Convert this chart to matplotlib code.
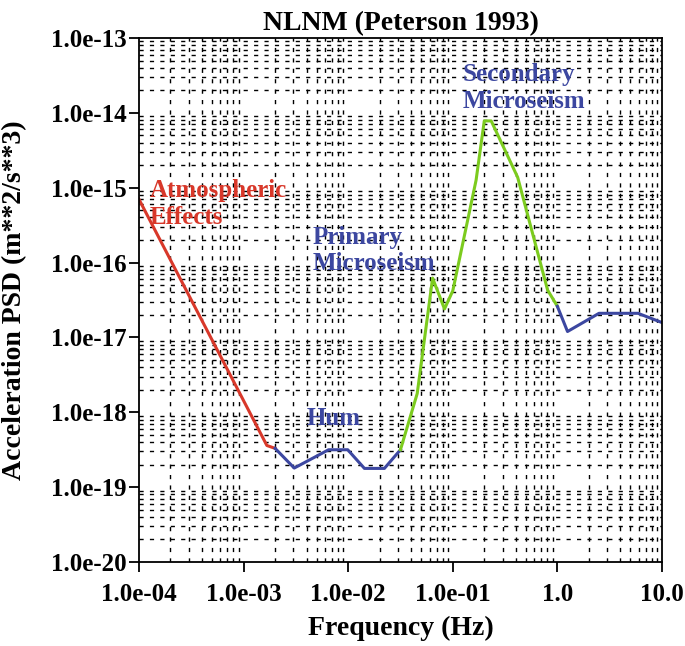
import matplotlib
matplotlib.use("Agg")
import matplotlib.pyplot as plt
from matplotlib.ticker import LogLocator, NullFormatter

plt.rcParams['font.family'] = ['Liberation Serif', 'DejaVu Serif']
plt.rcParams['font.weight'] = 'bold'

# NLNM curve, split into coloured pieces
atmos_f = [1.0e-4, 1.67e-3, 2.0e-3]
atmos_p = [7.0e-16, 3.6e-19, 3.3e-19]

hum_f = [2.0e-3, 3.05e-3, 6.5e-3, 9.9e-3, 1.43e-2, 2.22e-2, 3.16e-2]
hum_p = [3.3e-19, 1.8e-19, 3.16e-19, 3.16e-19, 1.78e-19, 1.78e-19, 3.16e-19]

micro_f = [3.16e-2, 4.57e-2, 6.41e-2, 8.33e-2, 0.1, 0.167, 0.2, 0.233, 0.417, 0.806, 1.0]
micro_p = [3.16e-19, 1.78e-18, 6.2e-17, 2.4e-17, 4.2e-17, 1.26e-15, 7.8e-15, 7.8e-15,
           1.38e-15, 4.3e-17, 2.6e-17]

high_f = [1.0, 1.25, 2.5, 5.9, 10.0]
high_p = [2.6e-17, 1.2e-17, 2.1e-17, 2.1e-17, 1.58e-17]

xticks = [1e-4, 1e-3, 1e-2, 1e-1, 1.0, 10.0]
xlabels = ["1.0e-04", "1.0e-03", "1.0e-02", "1.0e-01", "1.0", "10.0"]
yticks = [1e-20, 1e-19, 1e-18, 1e-17, 1e-16, 1e-15, 1e-14, 1e-13]
ylabels = ["1.0e-20", "1.0e-19", "1.0e-18", "1.0e-17", "1.0e-16", "1.0e-15", "1.0e-14", "1.0e-13"]

red = '#d8382a'
blue = '#3c47a0'
green = '#7ccb1e'

fig = plt.figure(figsize=(6.85, 6.46), dpi=100)
ax = fig.add_axes([0.2029, 0.1300, 0.7635, 0.8112])

ax.plot(atmos_f, atmos_p, color=red, lw=2.2)
ax.plot(hum_f, hum_p, color=blue, lw=2.2)
ax.plot(micro_f, micro_p, color=green, lw=2.2)
ax.plot(high_f, high_p, color=blue, lw=2.2)

ax.set_xscale('log')
ax.set_yscale('log')
ax.set_xlim(1e-4, 10)
ax.set_ylim(1e-20, 1e-13)

ax.set_xticks(xticks)
ax.set_xticklabels(xlabels)
ax.set_yticks(yticks)
ax.set_yticklabels(ylabels)
ax.xaxis.set_minor_locator(LogLocator(base=10, subs=range(2, 10), numticks=20))
ax.yaxis.set_minor_locator(LogLocator(base=10, subs=range(2, 10), numticks=20))
ax.xaxis.set_minor_formatter(NullFormatter())
ax.yaxis.set_minor_formatter(NullFormatter())
ax.tick_params(which='major', direction='out', length=7, width=1.3, labelsize=18, pad=2)
ax.tick_params(which='minor', length=0)
ax.tick_params(axis='x', which='major', pad=8)
ax.grid(which='minor', color='black', linestyle=(0, (3, 4.5)), linewidth=1.0)
ax.grid(which='major', visible=False)
for s in ax.spines.values():
    s.set_linewidth(1.3)

ax.set_title("NLNM (Peterson 1993)", fontsize=20, fontweight='bold', pad=6)
ax.set_xlabel("Frequency (Hz)", fontsize=20, fontweight='bold', labelpad=7)
ax.set_ylabel("Acceleration PSD (m**2/s**3)", fontsize=20, fontweight='bold')
ax.yaxis.set_label_coords(-0.213, 0.5)

ax.text(1.27e-4, 3.3e-16, "Atmospheric\nEffects", color=red, fontsize=18,
        fontweight='bold', ha='left', va='baseline', linespacing=1.2)
ax.text(4.6e-3, 7.9e-17, "Primary\nMicroseism", color=blue, fontsize=18,
        fontweight='bold', ha='left', va='baseline', linespacing=1.2)
ax.text(0.124, 1.16e-14, "Secondary\nMicroseism", color=blue, fontsize=18,
        fontweight='bold', ha='left', va='baseline', linespacing=1.2)
ax.text(4.0e-3, 6.8e-19, "Hum", color=blue, fontsize=18,
        fontweight='bold', ha='left', va='baseline')

fig.savefig("out.png", dpi=100)
